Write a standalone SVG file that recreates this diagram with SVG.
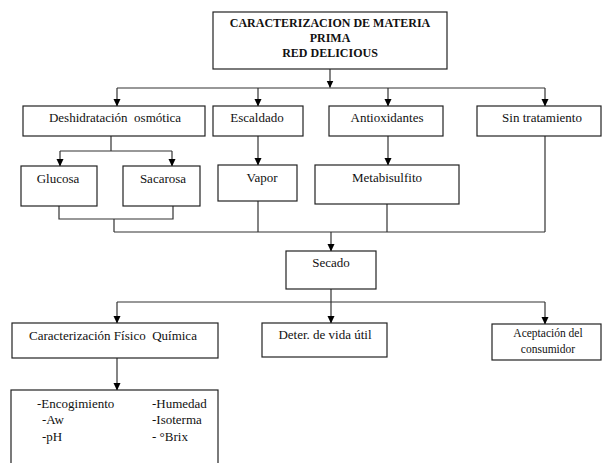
<svg xmlns="http://www.w3.org/2000/svg" width="603" height="463" viewBox="0 0 603 463">
<style>
.box{fill:#fff;stroke:#222;stroke-width:1.2}
.t{font-family:"Liberation Serif","Times New Roman",serif;font-size:13px;fill:#111;text-anchor:middle}
.s{font-size:11.5px}
.b{font-weight:bold;font-size:12px}
.l{text-anchor:start}
.c{fill:none;stroke:#333;stroke-width:1.2}
</style>
<defs>
<marker id="ah" markerWidth="8" markerHeight="8" refX="7" refY="4" orient="auto" markerUnits="userSpaceOnUse">
<path d="M0,0.5 L7.5,4 L0,7.5 Z" fill="#000"/>
</marker>
</defs>
<rect width="603" height="463" fill="#fff"/>
<g id="connectors">
<path class="c" d="M330,69 V87.5" marker-end="url(#ah)"/>
<path class="c" d="M117,88 H545"/>
<path class="c" d="M117,88 V106" marker-end="url(#ah)"/>
<path class="c" d="M258,88 V106" marker-end="url(#ah)"/>
<path class="c" d="M388,88 V106" marker-end="url(#ah)"/>
<path class="c" d="M545,88 V106" marker-end="url(#ah)"/>
<path class="c" d="M111,136 V151 M60,151 H172"/>
<path class="c" d="M60,151 V166" marker-end="url(#ah)"/>
<path class="c" d="M172,151 V166" marker-end="url(#ah)"/>
<path class="c" d="M258,136 V165" marker-end="url(#ah)"/>
<path class="c" d="M388,136 V165" marker-end="url(#ah)"/>
<path class="c" d="M59,206 V219 H173 V206 M114,219 V232"/>
<path class="c" d="M258,201 V232 M387,204 V232 M545,136 V232 M114,232 H545"/>
<path class="c" d="M331,232 V251" marker-end="url(#ah)"/>
<path class="c" d="M331,289 V302 M117,302 H545"/>
<path class="c" d="M117,302 V323" marker-end="url(#ah)"/>
<path class="c" d="M331,302 V323" marker-end="url(#ah)"/>
<path class="c" d="M545,302 V324" marker-end="url(#ah)"/>
<path class="c" d="M117,358 V390" marker-end="url(#ah)"/>
</g>
<g id="title">
<rect class="box" x="213" y="12" width="234" height="57"/>
<text class="t b" x="330" y="27">CARACTERIZACION DE MATERIA</text>
<text class="t b" x="330" y="42">PRIMA</text>
<text class="t b" x="330" y="57">RED DELICIOUS</text>
</g>
<g id="deshidratacion">
<rect class="box" x="23" y="106" width="182" height="30"/>
<text class="t" x="115" y="122" xml:space="preserve">Deshidratación  osmótica</text>
</g>
<g id="escaldado">
<rect class="box" x="213" y="106" width="90" height="30"/>
<text class="t" x="257" y="122">Escaldado</text>
</g>
<g id="antioxidantes">
<rect class="box" x="329" y="106" width="114" height="30"/>
<text class="t" x="387" y="122">Antioxidantes</text>
</g>
<g id="sin-tratamiento">
<rect class="box" x="477" y="106" width="124" height="30"/>
<text class="t" x="542" y="122">Sin tratamiento</text>
</g>
<g id="glucosa">
<rect class="box" x="21" y="166" width="76" height="40"/>
<text class="t" x="58" y="183">Glucosa</text>
</g>
<g id="sacarosa">
<rect class="box" x="123" y="166" width="77" height="40"/>
<text class="t" x="163" y="183">Sacarosa</text>
</g>
<g id="vapor">
<rect class="box" x="218" y="165" width="79" height="36"/>
<text class="t" x="262" y="182">Vapor</text>
</g>
<g id="metabisulfito">
<rect class="box" x="315" y="165" width="144" height="39"/>
<text class="t" x="387" y="182">Metabisulfito</text>
</g>
<g id="secado">
<rect class="box" x="286" y="251" width="90" height="38"/>
<text class="t" x="331" y="267">Secado</text>
</g>
<g id="caracterizacion-fq">
<rect class="box" x="12" y="323" width="206" height="35"/>
<text class="t" x="113" y="340" xml:space="preserve">Caracterización Físico  Química</text>
</g>
<g id="vida-util">
<rect class="box" x="262" y="323" width="125" height="34"/>
<text class="t" x="325" y="339">Deter. de vida útil</text>
</g>
<g id="aceptacion">
<rect class="box" x="492" y="324" width="109" height="36"/>
<text class="t s" x="548" y="337">Aceptación del</text>
<text class="t s" x="548" y="353">consumidor</text>
</g>
<g id="parametros">
<rect class="box" x="11" y="390" width="207" height="80"/>
<text class="t l" x="37" y="408">-Encogimiento</text>
<text class="t l" x="42" y="424">-Aw</text>
<text class="t l" x="42" y="441">-pH</text>
<text class="t l" x="152" y="408">-Humedad</text>
<text class="t l" x="152" y="424">-Isoterma</text>
<text class="t l" x="152" y="441">- °Brix</text>
</g>
</svg>
